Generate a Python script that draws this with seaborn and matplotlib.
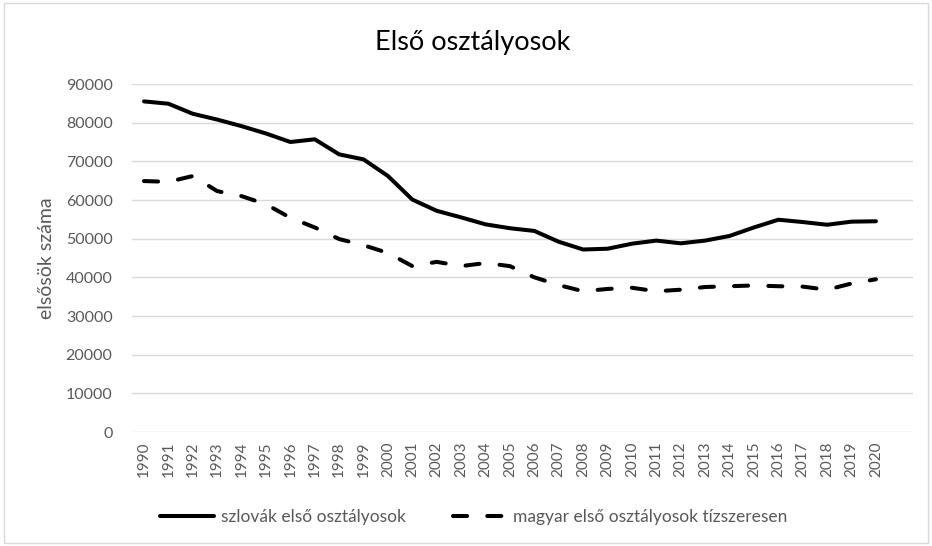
import pandas as pd
import matplotlib.pyplot as plt
import seaborn as sns
from matplotlib.patches import Rectangle
from matplotlib.lines import Line2D

years = list(range(1990, 2021))
szlovak = [85500, 84900, 82300, 80800, 79100, 77200, 75000, 75700, 71800, 70500,
           66200, 60100, 57200, 55500, 53700, 52700, 52000, 49200, 47200, 47400,
           48700, 49500, 48800, 49500, 50700, 52900, 54900, 54300, 53600, 54400, 54500]
magyar_x10 = [64900, 64700, 66200, 62300, 61000, 58900, 55400, 52900, 49900, 48300,
              46300, 42900, 44000, 42900, 43700, 42900, 40000, 38000, 36400, 37000,
              37300, 36400, 36800, 37500, 37700, 37900, 37700, 37600, 36800, 38400, 39500]

label_sk = 'szlovák első osztályosok'
label_hu = 'magyar első osztályosok tízszeresen'


def main():
    sns.set_style('white')
    plt.rcParams['font.family'] = ['Lato', 'DejaVu Sans']

    df = pd.DataFrame({'ev': years, 'sk': szlovak, 'hu': magyar_x10})

    fig = plt.figure(figsize=(9.32, 5.46), dpi=100)
    # plot area: x 132..913 px, y 84..432 px
    ax = fig.add_axes([132 / 932, 1 - 432 / 546, 781 / 932, 348 / 546])

    lw = 2.9
    dash = (3.5, 5.0)
    sns.lineplot(data=df, x='ev', y='sk', ax=ax, color='black', linewidth=lw)
    sns.lineplot(data=df, x='ev', y='hu', ax=ax, color='black', linewidth=lw)
    ax.lines[-1].set_dashes(dash)
    ax.lines[-1].set_dash_capstyle('round')

    ax.set_xlim(1989.508, 2021.52)
    ax.set_ylim(0, 90000)
    ax.set_yticks(range(0, 90001, 10000))
    ax.set_xticks(years)
    ax.set_xticklabels([str(y) for y in years], rotation=90)
    ax.tick_params(axis='both', colors='#595959', length=0)
    ax.tick_params(axis='y', labelsize=11.5, pad=14)
    ax.tick_params(axis='x', labelsize=11, pad=7)
    ax.grid(axis='y', color='#d9d9d9', linewidth=1)
    ax.set_axisbelow(True)
    for s in ax.spines.values():
        s.set_visible(False)

    ax.set_xlabel('')
    ax.set_ylabel('elsősök száma', fontsize=14, color='#595959', labelpad=8)
    fig.text(0.507, 0.923, 'Első osztályosok', ha='center', va='center',
             fontsize=19.5, color='black')

    handles = [Line2D([], [], color='black', linewidth=lw),
               Line2D([], [], color='black', linewidth=lw, dashes=dash,
                      dash_capstyle='round')]
    fig.legend(handles, [label_sk, label_hu], loc='center', bbox_to_anchor=(474 / 932, 0.053),
               ncol=2, frameon=False, fontsize=12.5, handlelength=3.1,
               handletextpad=0.4, columnspacing=2.7, labelcolor='#595959')

    fig.patches.append(Rectangle((0.004, 0.005), 0.992, 0.99, transform=fig.transFigure,
                                 fill=False, edgecolor='#d9d9d9', linewidth=1))

    fig.savefig('out.png', dpi=100)


if __name__ == '__main__':
    main()
